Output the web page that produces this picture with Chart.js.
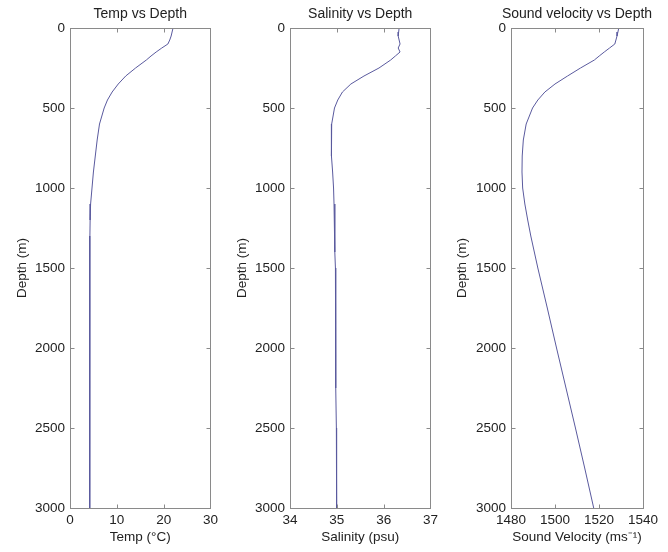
<!DOCTYPE html><html lang="en">
<head>
  <meta charset="UTF-8">
  <title>Depth profiles</title>
  <script src="https://cdn.jsdelivr.net/npm/chart.js"></script>
  <style>
    body { margin: 0; background: #fff; }
    .panel { position: absolute; top: 0; }
  </style>
</head>
<body>
  <canvas id="tempChart" class="panel" style="left:0px" width="222" height="552"></canvas>
  <canvas id="salChart" class="panel" style="left:220px" width="222" height="552"></canvas>
  <canvas id="svChart" class="panel" style="left:440px" width="222" height="552"></canvas>

  <script>
    // depth samples (m) shared by all three profiles
    const depth = [0, 25, 50, 75, 100, 125, 150, 175, 200, 250, 300, 350, 400, 450, 500,
      600, 700, 800, 900, 1000, 1100, 1200, 1300, 1400, 1500, 1750, 2000, 2250, 2500, 2750, 3000];
    const temp = [22.0, 21.8, 21.6, 21.3, 20.9, 19.6, 18.4, 17.3, 16.3, 14.0, 11.9, 10.3, 9.0, 8.0, 7.3,
      6.3, 5.8, 5.4, 5.0, 4.7, 4.4, 4.3, 4.25, 4.25, 4.25, 4.22, 4.2, 4.2, 4.2, 4.2, 4.2];
    const salinity = [36.33, 36.32, 36.31, 36.33, 36.35, 36.31, 36.35, 36.25, 36.15, 35.9, 35.58, 35.3, 35.12, 35.02, 34.95,
      34.89, 34.88, 34.89, 34.91, 34.93, 34.94, 34.95, 34.96, 34.96, 34.97, 34.97, 34.98, 34.98, 34.99, 34.99, 35.0];
    const soundVelocity = [1529, 1528.6, 1528.2, 1527.7, 1527.2, 1524.8, 1522.4, 1520.1, 1517.9, 1511.6, 1505.7, 1500, 1495.4, 1492.2, 1489.8,
      1486.9, 1485.6, 1485.1, 1485.0, 1485.3, 1486.3, 1487.6, 1489.0, 1490.6, 1492.2, 1496.5, 1500.7, 1505, 1509.3, 1513.5, 1517.6];

    const FONT = "'Liberation Sans', Arial, sans-serif";
    const AXIS_COLOR = '#8a8a8a';
    const TEXT_COLOR = '#222';
    const LINE_COLOR = '#5a5a9e';

    // matlab style box with inward ticks + title over the plot area
    const boxPlugin = {
      id: 'box',
      afterDraw(chart, args, opts) {
        const ctx = chart.ctx, a = chart.chartArea;
        const xs = chart.scales.x, ys = chart.scales.y;
        const L = Math.round(a.left) + 0.5, R = Math.round(a.right) + 0.5;
        const T = Math.round(a.top) + 0.5, B = Math.round(a.bottom) + 0.5;
        ctx.save();
        ctx.strokeStyle = AXIS_COLOR;
        ctx.lineWidth = 1;
        ctx.strokeRect(L, T, R - L, B - T);
        ctx.beginPath();
        xs.ticks.forEach(t => {
          const px = Math.round(xs.getPixelForValue(t.value)) + 0.5;
          ctx.moveTo(px, B); ctx.lineTo(px, B - 4);
          ctx.moveTo(px, T); ctx.lineTo(px, T + 4);
        });
        ys.ticks.forEach(t => {
          const py = Math.round(ys.getPixelForValue(t.value)) + 0.5;
          ctx.moveTo(L, py); ctx.lineTo(L + 4, py);
          ctx.moveTo(R, py); ctx.lineTo(R - 4, py);
        });
        ctx.stroke();
        ctx.fillStyle = TEXT_COLOR;
        ctx.font = '14px ' + FONT;
        ctx.textAlign = 'center';
        ctx.textBaseline = 'middle';
        ctx.fillText(opts.text, (a.left + a.right) / 2, 14);
        ctx.restore();
      }
    };

    function makePanel(id, title, xTitle, values, xMin, xMax, xStep, yWidth) {
      const pts = depth.map((d, i) => ({ x: values[i], y: d }));
      new Chart(document.getElementById(id).getContext('2d'), {
        type: 'scatter',
        data: {
          datasets: [{
            data: pts,
            showLine: true,
            borderColor: LINE_COLOR,
            borderWidth: 1,
            pointRadius: 0,
            tension: 0
          }]
        },
        options: {
          responsive: false,
          animation: false,
          devicePixelRatio: 1,
          layout: { padding: { top: 28, right: 9, left: 0, bottom: 0 } },
          plugins: {
            legend: { display: false },
            tooltip: { enabled: false },
            box: { text: title }
          },
          scales: {
            x: {
              type: 'linear', min: xMin, max: xMax,
              ticks: { stepSize: xStep, color: TEXT_COLOR, padding: 4, font: { family: FONT, size: 13.5 }, callback: v => String(v) },
              grid: { display: false, drawTicks: false },
              border: { display: false },
              title: { display: true, text: xTitle, color: TEXT_COLOR, font: { family: FONT, size: 13.5 }, padding: { top: 0, bottom: 7 } },
              afterFit: s => { s.height = 44; }
            },
            y: {
              type: 'linear', reverse: true, min: 0, max: 3000,
              ticks: { stepSize: 500, color: TEXT_COLOR, padding: 5, font: { family: FONT, size: 13.5 }, callback: v => String(v) },
              grid: { display: false, drawTicks: false },
              border: { display: false },
              title: { display: true, text: 'Depth (m)', color: TEXT_COLOR, font: { family: FONT, size: 13.5 }, padding: { top: 14, bottom: 0 } },
              afterFit: s => { s.width = yWidth; }
            }
          }
        },
        plugins: [boxPlugin]
      });
    }

    makePanel('tempChart', 'Temp vs Depth', 'Temp (°C)', temp, 0, 30, 10, 70);
    makePanel('salChart', 'Salinity vs Depth', 'Salinity (psu)', salinity, 34, 37, 1, 70);
    makePanel('svChart', 'Sound velocity vs Depth', 'Sound Velocity (ms⁻¹)', soundVelocity, 1480, 1540, 20, 71);
  </script>
</body>
</html>
